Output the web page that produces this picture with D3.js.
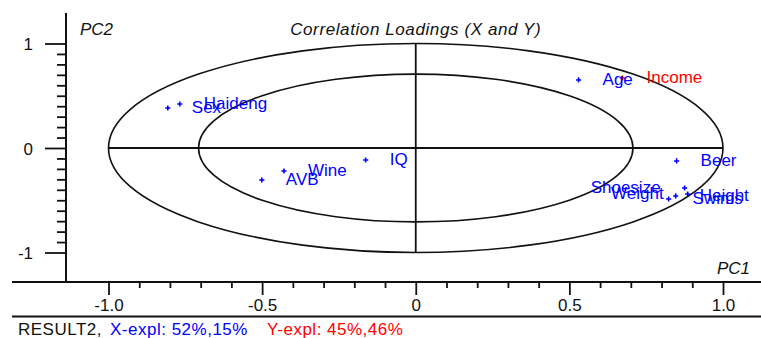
<!DOCTYPE html>
<html>
<head>
<meta charset="utf-8">
<script src="https://cdn.jsdelivr.net/npm/d3@7/dist/d3.min.js"></script>
<style>
  html, body { margin: 0; padding: 0; background: #fff; }
  svg { display: block; font-family: "Liberation Sans", Arial, sans-serif; }
</style>
</head>
<body>
<svg id="chart" width="761" height="338"></svg>
<script>
// Variables plotted on the correlation loadings map
const xVariables = ["Sex", "Haideng", "IQ", "Wine", "AVB", "Age", "Beer", "Shoesize", "Weight", "Height", "Swims"];
const xPC1 = [-0.807, -0.768, -0.163, -0.429, -0.501, 0.530, 0.849, 0.875, 0.885, 0.846, 0.823];
const xPC2 = [0.383, 0.421, -0.115, -0.220, -0.306, 0.651, -0.124, -0.383, -0.440, -0.459, -0.488];

const yVariables = ["Income"];
const yPC1 = [0.673];
const yPC2 = [0.670];

// Labels drawn to the left of their marker instead of the right
const labelLeft = ["Shoesize", "Weight"];

// Explained-variance circles (100 % and 50 %)
const circleRadii = [1.0, 0.707];

const xTicks = d3.range(-10, 11).map(d => d / 10);
const yTicks = d3.range(-10, 11).map(d => d / 10);
const xTickLabels = { "-1": "-1.0", "-0.5": "-0.5", "0": "0", "0.5": "0.5", "1": "1.0" };
const yTickLabels = { "-1": "-1", "0": "0", "1": "1" };

const title = "Correlation Loadings (X and Y)";
const modelName = "RESULT2,";
const xExpl = "X-expl: 52%,15%";
const yExpl = "Y-expl: 45%,46%";

const W = 761, H = 338;
const BLUE = "#0000ff", RED = "#ff0000", INK = "#111";
const FONT = 17;

const svg = d3.select("#chart");

const x = d3.scaleLinear().domain([-1, 1]).range([108.5, 723]);
const y = d3.scaleLinear().domain([-1, 1]).range([252.5, 43.5]);

const axisY = 282;   // vertical position of the PC1 axis
const axisX = 66;    // horizontal position of the PC2 axis

// ---- circles of explained variance ----
const rx = x(1) - x(0), ry = y(0) - y(1);
svg.append("g")
  .selectAll("ellipse")
  .data(circleRadii)
  .join("ellipse")
  .attr("cx", x(0)).attr("cy", y(0))
  .attr("rx", r => rx * r).attr("ry", r => ry * r)
  .attr("fill", "none").attr("stroke", INK).attr("stroke-width", 1.6);

// ---- cross through the origin ----
svg.append("line")
  .attr("x1", x(-1)).attr("x2", x(1)).attr("y1", y(0)).attr("y2", y(0))
  .attr("stroke", INK).attr("stroke-width", 1.8);
svg.append("line")
  .attr("x1", x(0)).attr("x2", x(0)).attr("y1", y(-1)).attr("y2", y(1))
  .attr("stroke", INK).attr("stroke-width", 1.8);

// ---- PC1 axis ----
const isMajorX = v => xTickLabels[String(v)] !== undefined;
const gx = svg.append("g")
  .attr("transform", `translate(0,${axisY})`)
  .call(d3.axisBottom(x).tickValues(xTicks).tickSize(6).tickSizeOuter(0)
    .tickPadding(5)
    .tickFormat(v => xTickLabels[String(v)] || ""));
gx.select(".domain").remove();
gx.selectAll(".tick line")
  .attr("stroke", INK).attr("stroke-width", 1.8)
  .attr("y2", v => isMajorX(v) ? 13 : 6);
gx.selectAll(".tick text")
  .attr("y", 17).attr("dy", "0.71em")
  .attr("font-size", FONT).attr("fill", INK).attr("font-family", "Liberation Sans, Arial, sans-serif");
svg.append("line")
  .attr("x1", 12).attr("x2", W).attr("y1", axisY).attr("y2", axisY)
  .attr("stroke", INK).attr("stroke-width", 2);

// ---- PC2 axis ----
const isMajorY = v => yTickLabels[String(v)] !== undefined;
const gy = svg.append("g")
  .attr("transform", `translate(${axisX},0)`)
  .call(d3.axisLeft(y).tickValues(yTicks).tickSize(9).tickSizeOuter(0)
    .tickFormat(v => yTickLabels[String(v)] || ""));
gy.select(".domain").remove();
gy.selectAll(".tick line")
  .attr("stroke", INK).attr("stroke-width", 1.8)
  .attr("x2", v => isMajorY(v) ? -21 : -9);
gy.selectAll(".tick text")
  .attr("x", -33).attr("dy", "0.36em")
  .attr("font-size", FONT).attr("fill", INK).attr("font-family", "Liberation Sans, Arial, sans-serif");
svg.append("line")
  .attr("x1", axisX).attr("x2", axisX).attr("y1", 13).attr("y2", axisY)
  .attr("stroke", INK).attr("stroke-width", 2);

// ---- titles ----
svg.append("text")
  .attr("x", x(0)).attr("y", 35)
  .attr("text-anchor", "middle").attr("font-style", "italic")
  .attr("letter-spacing", 0.6)
  .attr("font-size", FONT).attr("fill", INK)
  .text(title);
svg.append("text")
  .attr("x", 80).attr("y", 35)
  .attr("font-style", "italic").attr("font-size", FONT).attr("fill", INK)
  .text("PC2");
svg.append("text")
  .attr("x", 750).attr("y", 274).attr("text-anchor", "end")
  .attr("font-style", "italic").attr("font-size", FONT).attr("fill", INK)
  .text("PC1");

// ---- loadings ----
const points = [
  ...xVariables.map((name, i) => ({ name, pc1: xPC1[i], pc2: xPC2[i], color: BLUE })),
  ...yVariables.map((name, i) => ({ name, pc1: yPC1[i], pc2: yPC2[i], color: RED }))
];

const marks = svg.append("g");
const plus = 2.6;
marks.selectAll("path.mark")
  .data(points)
  .join("path")
  .attr("class", "mark")
  .attr("d", d => {
    const cx = x(d.pc1), cy = y(d.pc2);
    return `M${cx - plus},${cy}H${cx + plus}M${cx},${cy - plus}V${cy + plus}`;
  })
  .attr("stroke", d => d.color).attr("stroke-width", 1.6).attr("fill", "none");

marks.selectAll("text.label")
  .data(points)
  .join("text")
  .attr("class", "label")
  .attr("x", d => labelLeft.includes(d.name) ? x(d.pc1) - 24 : x(d.pc1) + 24)
  .attr("y", d => y(d.pc2) + 5)
  .attr("text-anchor", d => labelLeft.includes(d.name) ? "end" : "start")
  .attr("font-size", FONT)
  .attr("fill", d => d.color)
  .text(d => d.name);

// ---- status line ----
svg.append("line")
  .attr("x1", 12).attr("x2", W).attr("y1", 316.5).attr("y2", 316.5)
  .attr("stroke", INK).attr("stroke-width", 2);
const status = [
  { text: modelName, left: 18, color: INK },
  { text: xExpl, left: 110, color: BLUE },
  { text: yExpl, left: 267, color: RED }
];
svg.append("g").selectAll("text")
  .data(status)
  .join("text")
  .attr("x", d => d.left).attr("y", 335)
  .attr("font-size", FONT).attr("letter-spacing", 0.5)
  .attr("fill", d => d.color)
  .text(d => d.text);
</script>
</body>
</html>
